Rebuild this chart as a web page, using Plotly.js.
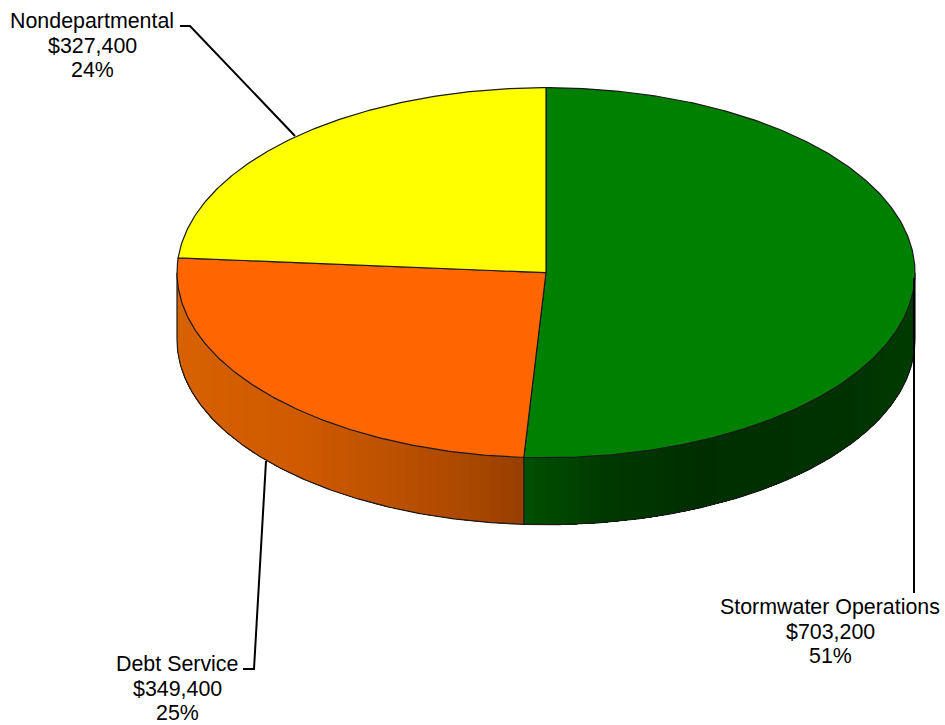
<!DOCTYPE html>
<html>
<head>
<meta charset="utf-8">
<script src="https://cdn.plot.ly/plotly-3.0.1.min.js"></script>
<style>html,body{margin:0;padding:0;background:#fff}#chart{width:945px;height:725px}</style>
</head>
<body>
<div id="chart"></div>
<script>
// ---- data ----
const categories = ["Stormwater Operations", "Debt Service", "Nondepartmental"];
const amounts = [703200, 349400, 327400];
const amountLabels = ["$703,200", "$349,400", "$327,400"];
const percentLabels = ["51%", "25%", "24%"];
const topColors = ["#008000", "#FF6600", "#FFFF00"];
// wall shading [x pixel, r, g, b]
const wallShades = [
  [[524,0,80,0],[600,0,58,0],[700,0,46,0],[850,0,50,0],[915,0,60,0]],
  [[176,214,98,0],[300,208,90,0],[400,186,80,0],[470,170,72,0],[524,150,62,0]],
  [[176,255,255,0],[915,255,255,0]]
];
// ---- geometry ----
const cx = 546, cy = 272.7, rx = 369, ry = 185, depth = 67;
const total = amounts.reduce((a, b) => a + b, 0);
const px = t => cx + rx * Math.sin(t);
const py = (t, d) => cy - ry * Math.cos(t) + (d || 0);
const OUT = "#1a1a1a";
const traces = [];
function shade(stops, x) {
  for (let i = 0; i < stops.length - 1; i++) {
    const a = stops[i], b = stops[i + 1];
    if (x <= b[0]) {
      const f = Math.max(0, (x - a[0]) / (b[0] - a[0]));
      return `rgb(${[1,2,3].map(k => Math.round(a[k] + (b[k] - a[k]) * f)).join(",")})`;
    }
  }
  const l = stops[stops.length - 1];
  return `rgb(${l[1]},${l[2]},${l[3]})`;
}
function addPoly(xs, ys, fill, lineColor, w) {
  traces.push({type: "scatter", mode: "lines", x: xs, y: ys, fill: "toself", fillcolor: fill,
    line: {color: lineColor, width: w}, hoverinfo: "skip", showlegend: false});
}
function addLine(xs, ys, color, w) {
  traces.push({type: "scatter", mode: "lines", x: xs, y: ys,
    line: {color: color, width: w}, hoverinfo: "skip", showlegend: false});
}
// slice angle ranges, clockwise from twelve o'clock
const ranges = [];
let acc = 0;
amounts.forEach(v => { const s = acc; acc += v / total * 2 * Math.PI; ranges.push([s, acc]); });

// walls: every band runs to the end of the slice, the next band paints over it, so no seams show
ranges.forEach((r, i) => {
  const s = Math.max(r[0], Math.PI / 2), e = Math.min(r[1], 3 * Math.PI / 2);
  if (e <= s) return;
  const n = Math.ceil((e - s) / 0.03);
  for (let k = 0; k < n; k++) {
    const a = s + (e - s) * k / n;
    const b = s + (e - s) * (k + 1) / n;
    const xs = [], ys = [], xb = [], yb = [];
    for (let j = k; j <= n; j++) {
      const t = s + (e - s) * j / n;
      xs.push(px(t)); ys.push(py(t));
      xb.unshift(px(t)); yb.unshift(py(t, depth));
    }
    const allx = xs.concat(xb, [xs[0]]), ally = ys.concat(yb, [ys[0]]);
    addPoly(allx, ally, shade(wallShades[i], (px(a) + px(b)) / 2), "rgba(0,0,0,0)", 0);
  }
  const xs = [], ys = [];
  for (let k = 0; k <= n * 4; k++) { const a = s + (e - s) * k / (n * 4); xs.push(px(a)); ys.push(py(a, depth)); }
  addLine(xs, ys, OUT, 1.2);
});
// vertical edges of the wall
[ranges[0][1], Math.PI / 2, 3 * Math.PI / 2].forEach(t => addLine([px(t), px(t)], [py(t), py(t, depth)], OUT, 1.2));

// top faces
ranges.forEach((r, i) => {
  const n = Math.ceil((r[1] - r[0]) / 0.01);
  const xs = [cx], ys = [cy];
  for (let k = 0; k <= n; k++) { const a = r[0] + (r[1] - r[0]) * k / n; xs.push(px(a)); ys.push(py(a)); }
  xs.push(cx); ys.push(cy);
  addPoly(xs, ys, topColors[i], OUT, 1.2);
});

// leader lines
const leaders = [
  [[914, 914], [278, 593]],
  [[243, 254, 266], [669, 669, 461]],
  [[180, 190, 295], [26, 26, 136]]
];
leaders.forEach(l => addLine(l[0], l[1], "#000000", 2));

// labels: one annotation per text line, to hold the reference's line spacing
const labelCentres = [[830, 607], [177, 664], [92, 21]];
const lineGap = 24.6;
const annotations = [];
categories.forEach((c, i) => {
  [c, amountLabels[i], percentLabels[i]].forEach((t, k) => {
    annotations.push({
      xref: "x", yref: "y", x: labelCentres[i][0], y: labelCentres[i][1] + k * lineGap,
      xanchor: "center", yanchor: "middle", align: "center", showarrow: false,
      borderpad: 0, borderwidth: 0, text: t,
      font: {family: "Liberation Sans, Arial, sans-serif", size: 21.4, color: "#000"}
    });
  });
});

Plotly.newPlot("chart", traces, {
  width: 945, height: 725,
  margin: {l: 0, r: 0, t: 0, b: 0},
  paper_bgcolor: "#fff", plot_bgcolor: "#fff",
  showlegend: false,
  xaxis: {range: [0, 945], visible: false, fixedrange: true},
  yaxis: {range: [725, 0], visible: false, fixedrange: true},
  annotations: annotations
}, {displayModeBar: false, staticPlot: true});
</script>
</body>
</html>
